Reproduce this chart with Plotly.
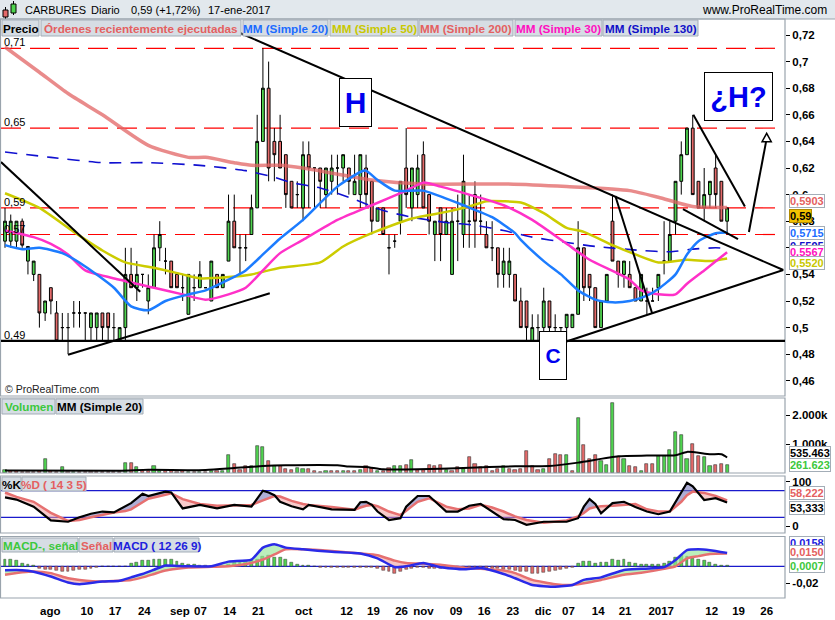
import numpy as np
import plotly.graph_objects as go

W, H = 835, 620
FONT = "Liberation Sans, Arial, sans-serif"

# ---------------- data ----------------
opens = [0.565,0.565,0.565,0.58,0.55,0.54,0.54,0.511,0.53,0.511,
         0.50,0.50,0.511,0.511,0.511,0.50,0.50,0.511,0.511,0.50,
         0.49,0.50,0.54,0.53,0.54,0.52,0.53,0.56,0.55,0.55,
         0.54,0.53,0.51,0.53,0.53,0.53,0.52,0.54,0.53,0.55,
         0.58,0.56,0.56,0.57,0.59,0.64,0.68,0.64,0.64,0.63,
         0.61,0.60,0.59,0.63,0.62,0.62,0.60,0.61,0.62,0.62,
         0.62,0.60,0.60,0.62,0.61,0.58,0.59,0.56,0.565,0.58,
         0.62,0.59,0.60,0.63,0.60,0.57,0.59,0.57,0.54,0.58,
         0.57,0.58,0.60,0.58,0.57,0.56,0.56,0.54,0.54,0.54,
         0.52,0.52,0.49,0.50,0.50,0.52,0.50,0.50,0.50,0.50,
         0.51,0.56,0.54,0.53,0.50,0.52,0.58,0.55,0.54,0.54,
         0.53,0.52,0.52,0.52,0.53,0.55,0.55,0.58,0.61,0.63,
         0.65,0.61,0.59,0.60,0.62,0.61,0.58]
highs = [0.59,0.585,0.58,0.582,0.561,0.55,0.54,0.52,0.53,0.52,
         0.511,0.511,0.52,0.52,0.511,0.511,0.511,0.511,0.511,0.511,
         0.50,0.56,0.56,0.55,0.54,0.54,0.57,0.58,0.56,0.55,
         0.54,0.54,0.54,0.54,0.55,0.53,0.55,0.54,0.54,0.60,
         0.60,0.57,0.57,0.60,0.66,0.71,0.70,0.65,0.66,0.63,
         0.61,0.61,0.64,0.64,0.62,0.62,0.62,0.63,0.63,0.63,
         0.62,0.63,0.63,0.63,0.61,0.59,0.59,0.57,0.57,0.61,
         0.65,0.62,0.63,0.64,0.60,0.58,0.59,0.59,0.59,0.60,
         0.63,0.60,0.61,0.60,0.58,0.58,0.56,0.56,0.56,0.54,
         0.53,0.52,0.51,0.51,0.53,0.52,0.51,0.50,0.51,0.51,
         0.58,0.56,0.54,0.53,0.52,0.54,0.60,0.55,0.55,0.55,
         0.53,0.54,0.53,0.53,0.54,0.58,0.58,0.61,0.64,0.65,
         0.66,0.61,0.62,0.61,0.63,0.61,0.59]
lows = [0.56,0.56,0.56,0.56,0.54,0.535,0.50,0.505,0.51,0.49,
        0.49,0.48,0.50,0.50,0.49,0.49,0.49,0.49,0.49,0.49,
        0.49,0.49,0.53,0.52,0.53,0.51,0.53,0.55,0.54,0.53,
        0.53,0.52,0.51,0.52,0.53,0.53,0.52,0.53,0.53,0.55,
        0.56,0.54,0.55,0.57,0.59,0.64,0.61,0.61,0.62,0.59,
        0.59,0.59,0.58,0.59,0.59,0.59,0.59,0.60,0.60,0.61,
        0.60,0.60,0.59,0.59,0.57,0.58,0.57,0.54,0.56,0.57,
        0.59,0.58,0.59,0.59,0.57,0.55,0.55,0.57,0.54,0.55,
        0.56,0.56,0.56,0.57,0.56,0.55,0.53,0.53,0.53,0.52,
        0.50,0.49,0.49,0.49,0.49,0.49,0.49,0.49,0.49,0.50,
        0.51,0.52,0.52,0.50,0.50,0.52,0.55,0.53,0.53,0.53,
        0.52,0.52,0.51,0.52,0.52,0.54,0.55,0.57,0.60,0.63,
        0.60,0.59,0.58,0.59,0.59,0.58,0.57]
closes = [0.58,0.58,0.58,0.562,0.561,0.55,0.511,0.52,0.52,0.49,
          0.50,0.50,0.511,0.511,0.511,0.511,0.511,0.50,0.50,0.50,
          0.50,0.54,0.53,0.54,0.54,0.53,0.56,0.57,0.55,0.53,
          0.53,0.53,0.54,0.53,0.54,0.53,0.55,0.53,0.54,0.58,
          0.56,0.56,0.56,0.59,0.64,0.68,0.62,0.63,0.62,0.60,
          0.59,0.60,0.63,0.62,0.62,0.61,0.62,0.62,0.62,0.63,
          0.61,0.61,0.63,0.60,0.58,0.59,0.57,0.56,0.565,0.61,
          0.60,0.62,0.62,0.59,0.58,0.58,0.57,0.58,0.58,0.58,
          0.61,0.58,0.58,0.58,0.56,0.56,0.54,0.55,0.55,0.52,
          0.50,0.50,0.50,0.50,0.52,0.50,0.50,0.50,0.51,0.51,
          0.56,0.53,0.53,0.50,0.52,0.54,0.55,0.54,0.55,0.53,
          0.52,0.54,0.52,0.52,0.54,0.55,0.57,0.61,0.63,0.65,
          0.60,0.59,0.60,0.61,0.60,0.58,0.59]

volume_k = [120,60,80,40,50,40,60,474,60,40,
            196,50,40,40,30,40,40,30,40,30,
            40,358,358,196,60,60,231,60,60,60,
            40,60,40,40,40,40,60,60,60,613,
            300,100,231,231,925,880,405,231,231,150,
            100,170,150,130,60,40,60,60,60,60,
            60,60,100,231,170,60,60,170,231,231,
            290,440,120,90,290,240,260,90,60,196,
            130,545,324,210,240,60,130,240,130,100,
            150,750,240,100,130,497,670,636,636,60,
            1884,960,497,613,405,290,2405,555,474,231,
            200,80,324,324,590,590,786,1400,1306,474,
            983,578,543,231,280,324,262]

vol_ma_idx = [0,20,25,35,40,45,49,58,60,63,66,72,80,89,95,100,107,112,117,119,123,125,126]
vol_ma_val = [90,80,110,100,170,240,266,266,220,208,127,127,173,231,243,358,578,601,613,728,647,647,535]

ma20_idx = [0,3,6,10,14,19,22,25,28,32,35,39,42,45,48,52,58,62,63,65,68,73,77,80,85,89,90,94,97,100,103,106,109,112,114,117,119,121,124,126]
ma20_val = [0.562,0.559,0.560,0.556,0.546,0.530,0.516,0.513,0.520,0.525,0.528,0.536,0.543,0.555,0.567,0.581,0.606,0.617,0.618,0.611,0.603,0.603,0.597,0.592,0.583,0.571,0.566,0.550,0.540,0.528,0.521,0.519,0.520,0.524,0.529,0.540,0.555,0.565,0.571,0.5715]

ma50_idx = [0,6,12,17,21,26,31,34,39,43,48,55,59,64,71,77,81,84,87,90,94,98,101,106,110,114,119,123,126]
ma50_val = [0.601,0.590,0.572,0.558,0.549,0.545,0.540,0.537,0.538,0.540,0.545,0.549,0.561,0.571,0.582,0.587,0.591,0.595,0.595,0.594,0.586,0.575,0.572,0.562,0.555,0.549,0.551,0.550,0.552]

ma200_idx = [0,6,11,17,25,32,35,40,43,48,52,64,73,87,98,109,114,120,126]
ma200_val = [0.711,0.692,0.676,0.660,0.637,0.628,0.628,0.624,0.622,0.622,0.620,0.611,0.608,0.608,0.606,0.603,0.598,0.591,0.5903]

ma30_idx = [0,5,8,11,14,20,26,31,35,39,42,45,48,52,58,64,70,73,76,81,87,92,98,102,109,111,114,117,119,122,126]
ma30_val = [0.573,0.568,0.563,0.555,0.543,0.536,0.530,0.525,0.521,0.525,0.530,0.543,0.556,0.566,0.581,0.592,0.603,0.609,0.606,0.600,0.592,0.581,0.563,0.551,0.536,0.528,0.525,0.525,0.533,0.543,0.5567]

ma130_idx = [0,8,17,25,34,42,47,50,55,60,66,71,77,82,87,92,98,103,111,116,120,124,126]
ma130_val = [0.632,0.628,0.624,0.624,0.622,0.618,0.613,0.609,0.605,0.598,0.588,0.583,0.579,0.577,0.573,0.568,0.564,0.561,0.558,0.557,0.559,0.560,0.5595]

stoch_idx = [0,2,5,8,11,13,15,17,19,21,22,24,25,28,29,31,34,37,40,43,45,46,47,48,50,52,53,57,61,62,63,64,65,67,69,70,72,74,77,79,81,83,85,87,89,91,94,98,100,101,102,103,104,106,108,110,112,114,116,118,119,120,122,124,126]
stoch_k = [65,60,44,13,10,20,28,33,31,45,52,73,68,78,76,40,48,40,48,44,80,76,70,55,45,38,48,38,37,54,55,48,33,14,18,44,68,68,33,33,46,50,33,16,14,3,10,10,18,44,61,50,29,52,55,43,33,27,33,77,98,90,59,63,53.333]
stoch_d = [76,66,55,30,12,14,20,26,31,34,38,54,62,71,74,61,50,46,47,48,58,63,68,67,57,50,48,43,37,42,46,48,45,33,25,35,55,63,44,38,40,48,42,33,22,14,8,13,22,30,40,43,45,46,48,50,38,33,33,55,70,78,75,68,58.222]

macd_idx = [0,3,5,8,11,13,17,20,22,24,26,28,30,32,36,39,43,45,47,49,52,57,62,65,68,70,73,76,80,83,87,89,92,96,99,101,104,108,111,115,117,119,121,123,126]
macd_line = [-0.0045,-0.0045,-0.0063,-0.012,-0.019,-0.021,-0.018,-0.017,-0.013,-0.009,-0.004,0.001,0.0005,0.0,0.0,0.0055,0.008,0.022,0.026,0.022,0.020,0.017,0.015,0.0094,-0.001,0.0,0.004,-0.001,-0.0035,-0.002,-0.009,-0.014,-0.022,-0.024,-0.022,-0.016,-0.013,-0.0043,-0.003,-0.001,0.0075,0.019,0.020,0.019,0.0158]
macd_signal = [-0.010,-0.007,-0.006,-0.008,-0.014,-0.016,-0.018,-0.017,-0.016,-0.013,-0.009,-0.005,-0.003,-0.0015,-0.0005,0.0,0.004,0.008,0.014,0.020,0.020,0.018,0.015,0.013,0.0067,0.004,0.003,0.002,-0.0016,-0.003,-0.005,-0.008,-0.016,-0.021,-0.022,-0.020,-0.016,-0.010,-0.0075,-0.003,0.0,0.0094,0.012,0.0145,0.0150]
macd_hist = [0.0075,0.0075,0.0067,0.0035,0.0024,0.001,-0.002,-0.0035,-0.0043,-0.0055,
             -0.006,-0.006,-0.0055,-0.0043,-0.0035,-0.0024,-0.0012,0,0,0,
             0,0,0.0035,0.005,0.0067,0.0067,0.0075,0.0075,0.008,0.008,
             0.006,0.0035,0.0024,0.0024,0.001,0.001,0,0,0,0.002,
             0.0043,0.0043,0.0055,0.0067,0.008,0.012,0.013,0.0106,0.0106,0.0075,
             0.0043,0.0027,0.001,0.001,0,-0.001,-0.0015,-0.0015,-0.0015,-0.0015,
             -0.0015,-0.0015,-0.0015,-0.0015,-0.0015,-0.003,-0.005,-0.0065,-0.008,-0.006,
             -0.004,-0.002,-0.001,-0.0015,-0.002,-0.0025,-0.0025,-0.002,-0.0025,-0.0025,
             -0.002,-0.0015,-0.0015,-0.002,-0.002,-0.0025,-0.003,-0.0035,-0.004,-0.005,
             -0.006,-0.0065,-0.008,-0.008,-0.0075,-0.006,-0.005,-0.0035,-0.0028,-0.0015,
             0.0035,0.0055,0.006,0.0035,0.0043,0.0043,0.0075,0.0067,0.0075,0.0043,
             0.0035,0.0024,0.0016,0.0016,0.0024,0.0035,0.0055,0.010,0.013,0.012,
             0.0094,0.008,0.0067,0.0043,0.0024,0.001,0.0007]

x_tick_pos = [7.9,14.3,19.2,24.3,30.5,34.1,39.2,44.2,52.1,59.6,64.3,69.2,73.0,78.7,83.6,88.6,93.9,98.3,103.5,108.2,114.5,123.3,128.0,132.9]
x_tick_labels = ["ago","10","17","24","sep","07","14","21","oct","12","19","26","nov","09","16","23","dic","07","14","21","2017","12","19","26"]

price_ticks = [0.46,0.48,0.50,0.52,0.54,0.56,0.58,0.60,0.62,0.64,0.66,0.68,0.70,0.72]
price_tick_labels = ["0,46","0,48","0,5","0,52","0,54","0,56","0,58","0,6","0,62","0,64","0,66","0,68","0,7","0,72"]

level_prices = [0.71, 0.65, 0.59, 0.57]
level_labels = ["0,71", "0,65", "0,59", "0,57"]
support_price = 0.49

# hand-drawn trend lines: (index0, price0, index1, price1)
trend_lines = [(-0.7, 0.6245, 23.6, 0.527),
               (11.0, 0.4796, 46.2, 0.5258),
               (41.0, 0.7215, 135.8, 0.5433),
               (97.7, 0.4892, 135.8, 0.5433),
               (106.5, 0.599, 112.9, 0.511),
               (120.1, 0.660, 129.1, 0.591),
               (118.3, 0.589, 127.9, 0.5666),
               (129.8, 0.5719, 132.8, 0.6398)]
arrow_head = [(132.1, 0.6398), (133.7, 0.6398), (132.9, 0.6461)]

# ---------------- helpers ----------------
def fx(p):
    return p / W

def fy(p):
    return 1 - p / H

idx = list(range(len(closes)))

GREEN = "#4fd34f"
RED = "#e46a6a"
SALMON = "#e67070"

fig = go.Figure()

def add_fill_pair(xs, a, b, col_up, col_dn, yaxis):
    xs = list(xs); a = list(a); b = list(b)
    X, A, B = [xs[0]], [a[0]], [b[0]]
    for j in range(1, len(xs)):
        d0 = a[j-1] - b[j-1]
        d1 = a[j] - b[j]
        if d0 * d1 < 0:
            t = d0 / (d0 - d1)
            xc = xs[j-1] + t * (xs[j] - xs[j-1])
            yc = a[j-1] + t * (a[j] - a[j-1])
            X.append(xc); A.append(yc); B.append(yc)
        X.append(xs[j]); A.append(a[j]); B.append(b[j])
    A = np.array(A); B = np.array(B)
    fig.add_trace(go.Scatter(x=X, y=B, mode="lines", line=dict(width=0), yaxis=yaxis, hoverinfo="skip"))
    fig.add_trace(go.Scatter(x=X, y=np.maximum(A, B), mode="lines", line=dict(width=0), fill="tonexty",
                             fillcolor=col_up, yaxis=yaxis, hoverinfo="skip"))
    fig.add_trace(go.Scatter(x=X, y=B, mode="lines", line=dict(width=0), yaxis=yaxis, hoverinfo="skip"))
    fig.add_trace(go.Scatter(x=X, y=np.minimum(A, B), mode="lines", line=dict(width=0), fill="tonexty",
                             fillcolor=col_dn, yaxis=yaxis, hoverinfo="skip"))

# ---------------- price panel ----------------
fig.add_trace(go.Scatter(x=ma200_idx, y=ma200_val, mode="lines", line=dict(color="rgba(225,100,100,0.75)", width=3.5, shape="spline", smoothing=0.6), yaxis="y"))
fig.add_trace(go.Scatter(x=ma130_idx, y=ma130_val, mode="lines", line=dict(color="#1010d0", width=1.6, dash="12px,9px", shape="spline", smoothing=0.6), yaxis="y"))
fig.add_trace(go.Candlestick(x=idx, open=opens, high=highs, low=lows, close=closes,
                             increasing=dict(fillcolor=GREEN, line=dict(color="black", width=1)),
                             decreasing=dict(fillcolor=RED, line=dict(color="black", width=1)),
                             whiskerwidth=0, yaxis="y", hoverinfo="skip"))
fig.add_trace(go.Scatter(x=ma50_idx, y=ma50_val, mode="lines", line=dict(color="#cccc00", width=2.5, shape="spline", smoothing=0.6), yaxis="y"))
fig.add_trace(go.Scatter(x=ma30_idx, y=ma30_val, mode="lines", line=dict(color="#ff30c8", width=2.5, shape="spline", smoothing=0.6), yaxis="y"))
fig.add_trace(go.Scatter(x=ma20_idx, y=ma20_val, mode="lines", line=dict(color="#1c7cff", width=2.5, shape="spline", smoothing=0.6), yaxis="y"))

# ---------------- volume panel ----------------
vol_colors = [GREEN] + [GREEN if closes[i] > closes[i-1] else RED for i in range(1, len(closes))]
fig.add_trace(go.Bar(x=idx, y=volume_k, marker=dict(color=vol_colors, line=dict(color="#333333", width=0.6)),
                     width=0.55, yaxis="y2", hoverinfo="skip"))
fig.add_trace(go.Scatter(x=vol_ma_idx, y=vol_ma_val, mode="lines", line=dict(color="black", width=2, shape="spline", smoothing=0.6), yaxis="y2"))

# ---------------- stochastic panel ----------------
add_fill_pair(stoch_idx, stoch_k, stoch_d, "rgba(120,120,185,0.6)", "rgba(240,160,160,0.55)", "y3")
fig.add_trace(go.Scatter(x=stoch_idx, y=stoch_d, mode="lines", line=dict(color=SALMON, width=2.5), yaxis="y3"))
fig.add_trace(go.Scatter(x=stoch_idx, y=stoch_k, mode="lines", line=dict(color="black", width=2.2), yaxis="y3"))

# ---------------- MACD panel ----------------
hist_colors = [GREEN if v >= 0 else RED for v in macd_hist]
fig.add_trace(go.Bar(x=idx, y=macd_hist, marker=dict(color=hist_colors, line=dict(color="#333333", width=0.5)),
                     width=0.5, yaxis="y4", hoverinfo="skip"))
add_fill_pair(macd_idx, macd_line, macd_signal, "rgba(150,230,150,0.65)", "rgba(240,160,160,0.6)", "y4")
fig.add_trace(go.Scatter(x=macd_idx, y=macd_signal, mode="lines", line=dict(color=SALMON, width=2.5, shape="spline", smoothing=0.5), yaxis="y4"))
fig.add_trace(go.Scatter(x=macd_idx, y=macd_line, mode="lines", line=dict(color="#2a2ae8", width=2.5, shape="spline", smoothing=0.5), yaxis="y4"))

# ---------------- shapes ----------------
shapes = []
# header strip
shapes.append(dict(type="rect", xref="paper", yref="paper", x0=0, x1=1, y0=fy(19), y1=1,
                   fillcolor="#e2e8ed", line=dict(width=0), layer="below"))
shapes.append(dict(type="line", xref="paper", yref="paper", x0=0, x1=1, y0=fy(19), y1=fy(19),
                   line=dict(color="#9aa4ad", width=1)))
# icon
shapes += [
    dict(type="line", xref="paper", yref="paper", x0=fx(5.5), x1=fx(5.5), y0=fy(7), y1=fy(19), line=dict(color="black", width=1)),
    dict(type="rect", xref="paper", yref="paper", x0=fx(3), x1=fx(8), y0=fy(10), y1=fy(17), fillcolor=RED, line=dict(color="black", width=1)),
    dict(type="line", xref="paper", yref="paper", x0=fx(13.5), x1=fx(13.5), y0=fy(1), y1=fy(15), line=dict(color="black", width=1)),
    dict(type="rect", xref="paper", yref="paper", x0=fx(11), x1=fx(16), y0=fy(4), y1=fy(13), fillcolor=GREEN, line=dict(color="black", width=1)),
]
# panel frames
for top, bot in [(19, 396), (398, 473), (476, 533), (536.5, 598)]:
    shapes.append(dict(type="rect", xref="paper", yref="paper", x0=fx(0.5), x1=fx(785), y0=fy(bot), y1=fy(top),
                       line=dict(color="#9aa4ad", width=1.2), fillcolor="rgba(0,0,0,0)"))
# red dashed levels
for p in level_prices:
    shapes.append(dict(type="line", xref="paper", yref="y", x0=fx(1), x1=fx(777), y0=p, y1=p,
                       line=dict(color="#ff0000", width=1.2, dash="20px,9px"), layer="below"))
# support line
shapes.append(dict(type="line", xref="paper", yref="y", x0=fx(1), x1=fx(785), y0=support_price, y1=support_price,
                   line=dict(color="black", width=2.2)))
# trend lines
for (a0, p0, a1, p1) in trend_lines:
    shapes.append(dict(type="line", xref="x", yref="y", x0=a0, y0=p0, x1=a1, y1=p1,
                       line=dict(color="black", width=2)))
path = "M {},{} L {},{} L {},{} Z".format(arrow_head[0][0], arrow_head[0][1], arrow_head[1][0], arrow_head[1][1],
                                          arrow_head[2][0], arrow_head[2][1])
shapes.append(dict(type="path", xref="x", yref="y", path=path, fillcolor="white", line=dict(color="black", width=1.5)))
# stochastic 80/20 lines and MACD zero line
for v in (80, 20):
    shapes.append(dict(type="line", xref="paper", yref="y3", x0=fx(1), x1=fx(785), y0=v, y1=v,
                       line=dict(color="#1a1acc", width=1.2), layer="below"))
shapes.append(dict(type="line", xref="paper", yref="y4", x0=fx(1), x1=fx(785), y0=0, y1=0,
                   line=dict(color="#1a1acc", width=1.2), layer="below"))

# legend header boxes
def legend_box(x0, x1, y0, y1, text, color):
    shapes.append(dict(type="rect", xref="paper", yref="paper", x0=fx(x0), x1=fx(x1), y0=fy(y1), y1=fy(y0),
                       fillcolor="#d6dde4", line=dict(color="#a3adb7", width=1)))
    return dict(xref="paper", yref="paper", x=fx((x0 + x1) / 2), y=fy((y0 + y1) / 2), text="<b>%s</b>" % text,
                showarrow=False, xanchor="center", yanchor="middle",
                font=dict(family=FONT, size=11.7, color=color))

annotations = []
for (x0, x1, t, c) in [(2, 39, "Precio", "black"), (41, 241, "Órdenes recientemente ejecutadas", "#e46060"),
                       (243, 328, "MM (Simple 20)", "#1c6cff"), (330, 418, "MM (Simple 50)", "#c8c800"),
                       (419, 513, "MM (Simple 200)", "#e46060"), (515, 602, "MM (Simple 30)", "#ff10c0"),
                       (603, 698, "MM (Simple 130)", "#1010c8")]:
    annotations.append(legend_box(x0, x1, 20, 36, t, c))
for (x0, x1, t, c) in [(2, 55, "Volumen", "#3cc83c"), (56, 143, "MM (Simple 20)", "black")]:
    annotations.append(legend_box(x0, x1, 399, 414, t, c))
for (x0, x1, t, c) in [(2, 21, "%K", "black"), (22, 86, "%D ( 14 3 5)", "#e46060")]:
    annotations.append(legend_box(x0, x1, 477, 491, t, c))
for (x0, x1, t, c) in [(2, 78, "MACD-, señal", "#3cc83c"), (79, 113, "Señal", "#e46060"), (114, 199, "MACD ( 12 26 9)", "#2020dd")]:
    annotations.append(legend_box(x0, x1, 538, 552, t, c))

# header texts
for (x, t) in [(23, "CARBURES"), (89, "Diario"), (129, "0,59 (+1,72%)"), (206, "17-ene-2017")]:
    annotations.append(dict(xref="paper", yref="paper", x=fx(x), y=fy(10), text=t, showarrow=False,
                            xanchor="left", yanchor="middle", font=dict(family=FONT, size=11, color="black")))
annotations.append(dict(xref="paper", yref="paper", x=fx(829), y=fy(10), text="www.ProRealTime.com", showarrow=False,
                        xanchor="right", yanchor="middle", font=dict(family=FONT, size=12, color="black")))
annotations.append(dict(xref="paper", yref="paper", x=fx(3), y=fy(389), text="© ProRealTime.com", showarrow=False,
                        xanchor="left", yanchor="middle", font=dict(family=FONT, size=10.5, color="#222222")))

# level labels
for p, t in zip(level_prices + [support_price], level_labels + ["0,49"]):
    annotations.append(dict(xref="paper", yref="y", x=fx(2), y=p, text=t, showarrow=False,
                            xanchor="left", yanchor="bottom", yshift=-2,
                            font=dict(family=FONT, size=11, color="black")))

# H / C / ¿H? boxes
for (cx, cy, w, h, t, s) in [(355.5, 102.5, 31, 47, "H", 30), (553, 355.5, 26, 47, "C", 21), (738.5, 96.5, 67, 47, "¿H?", 29)]:
    annotations.append(dict(xref="paper", yref="paper", x=fx(cx), y=fy(cy), text="<b>%s</b>" % t, showarrow=False,
                            xanchor="center", yanchor="middle", width=w, height=h, borderpad=0,
                            bordercolor="black", borderwidth=1, bgcolor="white",
                            font=dict(family=FONT, size=s, color="#0000ee")))

# right-hand value tags
def tag(text, ycen, color, bg="white", border="#a3adb7"):
    annotations.append(dict(xref="paper", yref="paper", x=fx(789), y=fy(ycen), text="<b>%s</b>" % text,
                            showarrow=False, xanchor="left", yanchor="middle", bgcolor=bg,
                            bordercolor=border, borderwidth=1, borderpad=0,
                            font=dict(family=FONT, size=11, color=color)))

tag("0,5595", 246, "#1010c8")
tag("0,5567", 252.5, "#ff10c0")
tag("0,5520", 262.5, "#c8c800")
tag("0,5715", 233, "#1c6cff")
tag("0,5903", 200.5, "#e46060")
tag("0,59", 216, "black", bg="#f2c200", border="#b08a00")
tag("535.463", 452.5, "black")
tag("261.623", 464.5, "#3cc83c")
tag("58,222", 493, "#e46060")
tag("53,333", 508, "black")
tag("0,0158", 543, "#2020dd")
tag("0,0150", 552, "#e46060")
tag("0,0007", 566, "#3cc83c")

axis_font = dict(family=FONT, size=11.5, color="black", weight="bold")
common_y = dict(side="right", anchor="free", position=fx(785), showgrid=False, zeroline=False,
                ticks="outside", ticklen=4, tickcolor="black", tickfont=axis_font, showline=False, fixedrange=True)

fig.update_layout(
    width=W, height=H, margin=dict(l=0, r=0, t=0, b=0),
    paper_bgcolor="white", plot_bgcolor="white", showlegend=False, hovermode=False,
    font=dict(family=FONT), bargap=0,
    xaxis=dict(domain=[fx(1), fx(785)], range=[-0.7, 136.1], anchor="y4", tickmode="array",
               tickvals=x_tick_pos, ticktext=x_tick_labels, ticks="", tickangle=0, ticklabelstandoff=4,
               tickfont=dict(family=FONT, size=11.5, color="black", weight="bold"),
               showgrid=False, zeroline=False, showline=False, rangeslider=dict(visible=False), fixedrange=True),
    yaxis=dict(domain=[fy(396), fy(19)], range=[0.72 - (396 - 35) / 1330, 0.72 + (35 - 19) / 1330],
               tickmode="array", tickvals=price_ticks, ticktext=price_tick_labels, **common_y),
    yaxis2=dict(domain=[fy(473), fy(398)], range=[0, 2586], tickmode="array", tickvals=[1000, 2000],
                ticktext=["1.000k", "2.000k"], **common_y),
    yaxis3=dict(domain=[fy(533), fy(476)], range=[-15.35, 113.1], tickmode="array", tickvals=[0, 100],
                ticktext=["0", "100"], **common_y),
    yaxis4=dict(domain=[fy(598), fy(536.5)], range=[-0.0373, 0.0351], tickmode="array", tickvals=[-0.02],
                ticktext=["-0,02"], **common_y),
    shapes=shapes, annotations=annotations,
)

fig.write_html("out.html", config={"displayModeBar": False},
               post_script="document.body.style.margin='0';document.body.style.overflow='hidden';")
